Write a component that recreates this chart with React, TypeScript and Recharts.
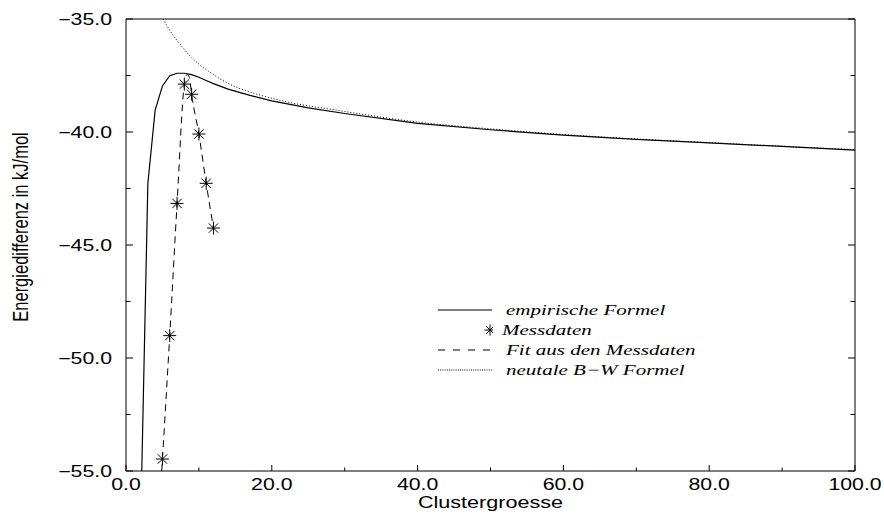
import { ComposedChart, Line, XAxis, YAxis } from "recharts";

const clusterTicks = [0, 10, 20, 30, 40, 50, 60, 70, 80, 90, 100];
const energyTicks = [-55, -52.5, -50, -47.5, -45, -42.5, -40, -37.5, -35];

// empirische Formel (solid), evaluated at cluster sizes
const empirischX = [2, 3, 4, 5, 6, 7, 8, 9, 10, 11, 12, 14, 17, 20, 25, 30, 40, 50, 60, 70, 80, 90, 100];
const empirischY = [-57.5, -42.27, -39.03, -37.96, -37.51, -37.4, -37.4, -37.46, -37.58, -37.72, -37.86, -38.1, -38.38, -38.62, -38.93, -39.18, -39.62, -39.9, -40.14, -40.33, -40.48, -40.64, -40.8];

// Messdaten (asterisks)
const messX = [5, 6, 7, 8, 9, 10, 11, 12];
const messY = [-54.47, -49.01, -43.16, -37.88, -38.33, -40.09, -42.27, -44.25];

// Fit aus den Messdaten (dashed)
const fitX = [4.9, 5, 6, 7, 8, 8.4, 8.7, 9, 10, 11, 12];
const fitY = [-55, -54.47, -49.0, -43.2, -37.9, -37.45, -37.6, -38.33, -40.1, -42.27, -44.25];

// neutale B-W Formel (dotted)
const bwX = [5.1, 6, 7, 8, 9, 10, 11.5, 12.9, 15, 17.5, 22, 29.4, 40, 50, 60, 70, 80, 90, 100];
const bwY = [-35, -35.5, -35.95, -36.35, -36.7, -37.0, -37.35, -37.65, -38.0, -38.28, -38.66, -39.06, -39.56, -39.86, -40.11, -40.31, -40.47, -40.63, -40.78];

const seriesNames = ["empirische Formel", "Messdaten", "Fit aus den Messdaten", "neutale B\u2212W Formel"];

const toPoints = (xs: number[], ys: number[]) => xs.map((x, i) => ({ x, y: ys[i] }));

const empirischData = toPoints(empirischX, empirischY);
const messData = toPoints(messX, messY);
const fitData = toPoints(fitX, fitY);
const bwData = toPoints(bwX, bwY);

const SANS = "'Liberation Sans', Arial, sans-serif";
const SERIF = "'Liberation Serif', 'Times New Roman', serif";

const fmt = (v: number) => (v < 0 ? "\u2212" : "") + Math.abs(v).toFixed(1);

function BottomTick({ x, y, payload }: any) {
  const v = payload.value as number;
  const major = v % 20 === 0;
  return (
    <g>
      <line x1={x} y1={y} x2={x} y2={y - (major ? 6 : 3.5)} stroke="#000" />
      {major && (
        <text
          transform={`translate(${x},${y + 13}) scale(1.33,1)`}
          textAnchor="middle"
          dominantBaseline="central"
          fontSize={16}
          fontFamily={SANS}
          fill="#000"
        >
          {v.toFixed(1)}
        </text>
      )}
    </g>
  );
}

function TopTick({ x, y, payload }: any) {
  const major = payload.value % 20 === 0;
  return <line x1={x} y1={y} x2={x} y2={y + (major ? 6 : 3.5)} stroke="#000" />;
}

function LeftTick({ x, y, payload }: any) {
  const v = payload.value as number;
  const major = v % 5 === 0;
  return (
    <g>
      <line x1={x} y1={y} x2={x + (major ? 7 : 4.5)} y2={y} stroke="#000" />
      {major && (
        <text
          transform={`translate(${x - 14},${y}) scale(1.33,1)`}
          textAnchor="end"
          dominantBaseline="central"
          fontSize={16}
          fontFamily={SANS}
          fill="#000"
        >
          {fmt(v)}
        </text>
      )}
    </g>
  );
}

function RightTick({ x, y, payload }: any) {
  const major = payload.value % 5 === 0;
  return <line x1={x} y1={y} x2={x - (major ? 7 : 4.5)} y2={y} stroke="#000" />;
}

function XLabel({ viewBox }: any) {
  const { x, y, width } = viewBox;
  return (
    <text
      transform={`translate(${x + width / 2},${y + 32}) scale(1.35,1)`}
      textAnchor="middle"
      dominantBaseline="central"
      fontSize={16}
      fontFamily={SANS}
      fill="#000"
    >
      Clustergroesse
    </text>
  );
}

function YLabel({ viewBox }: any) {
  const { x, y, width, height } = viewBox;
  return (
    <text
      transform={`translate(${x + width - 105},${y + height / 2 - 18}) rotate(-90) scale(1,1.3)`}
      textAnchor="middle"
      dominantBaseline="central"
      fontSize={16.5}
      fontFamily={SANS}
      fill="#000"
    >
      Energiedifferenz in kJ/mol
    </text>
  );
}

function Star({ cx, cy, r = 6.5 }: { cx: number; cy: number; r?: number }) {
  const d = r * 0.72;
  return (
    <g stroke="#000" strokeWidth={1}>
      <line x1={cx - r} y1={cy} x2={cx + r} y2={cy} />
      <line x1={cx} y1={cy - r} x2={cx} y2={cy + r} />
      <line x1={cx - d} y1={cy - d} x2={cx + d} y2={cy + d} />
      <line x1={cx - d} y1={cy + d} x2={cx + d} y2={cy - d} />
    </g>
  );
}

function StarDot(props: any) {
  const { cx, cy, index } = props;
  if (cx == null || cy == null) return <g key={index} />;
  return <Star key={index} cx={cx} cy={cy} />;
}

function LegendSymbol({ kind }: { kind: number }) {
  return (
    <svg width={56} height={20} style={{ display: "block" }}>
      {kind === 0 && <line x1={1} y1={10} x2={55} y2={10} stroke="#000" strokeWidth={1.2} />}
      {kind === 1 && <Star cx={53} cy={10} r={5.5} />}
      {kind === 2 && <line x1={1} y1={10} x2={55} y2={10} stroke="#000" strokeWidth={1} strokeDasharray="7 8" />}
      {kind === 3 && <line x1={1} y1={10} x2={55} y2={10} stroke="#000" strokeWidth={1} strokeDasharray="1 1.2" />}
    </svg>
  );
}

export default function App() {
  return (
    <div style={{ position: "absolute", left: 0, top: 0, width: 884, height: 514, background: "#fff" }}>
      <ComposedChart width={884} height={514} margin={{ top: 18, right: 28, bottom: 42, left: 125 }}>
        <XAxis
          dataKey="x"
          type="number"
          domain={[0, 100]}
          ticks={clusterTicks}
          interval={0}
          height={1}
          tickSize={0}
          tickMargin={0}
          tick={<BottomTick />}
          axisLine={{ stroke: "#000" }}
          allowDataOverflow
          label={<XLabel />}
        />
        <XAxis
          xAxisId="top"
          orientation="top"
          type="number"
          domain={[0, 100]}
          ticks={clusterTicks}
          interval={0}
          height={1}
          tickSize={0}
          tickMargin={0}
          tick={<TopTick />}
          axisLine={{ stroke: "#000" }}
          allowDataOverflow
        />
        <YAxis
          type="number"
          domain={[-55, -35]}
          ticks={energyTicks}
          interval={0}
          width={1}
          tickSize={0}
          tickMargin={0}
          tick={<LeftTick />}
          axisLine={{ stroke: "#000" }}
          allowDataOverflow
          label={<YLabel />}
        />
        <YAxis
          yAxisId="right"
          orientation="right"
          type="number"
          domain={[-55, -35]}
          ticks={energyTicks}
          interval={0}
          width={1}
          tickSize={0}
          tickMargin={0}
          tick={<RightTick />}
          axisLine={{ stroke: "#000" }}
          allowDataOverflow
        />
        <Line
          data={empirischData}
          dataKey="y"
          name={seriesNames[0]}
          type="linear"
          stroke="#000"
          strokeWidth={1.2}
          dot={false}
          isAnimationActive={false}
        />
        <Line
          data={bwData}
          dataKey="y"
          name={seriesNames[3]}
          type="monotone"
          stroke="#000"
          strokeWidth={1}
          strokeDasharray="1 2"
          dot={false}
          isAnimationActive={false}
        />
        <Line
          data={fitData}
          dataKey="y"
          name={seriesNames[2]}
          type="monotone"
          stroke="#000"
          strokeWidth={1}
          strokeDasharray="7 5"
          dot={false}
          isAnimationActive={false}
        />
        <Line
          data={messData}
          dataKey="y"
          name={seriesNames[1]}
          stroke="none"
          dot={<StarDot />}
          activeDot={false}
          isAnimationActive={false}
        />
      </ComposedChart>
      <div style={{ position: "absolute", left: 437, top: 300 }}>
        {seriesNames.map((name, i) => (
          <div key={name} style={{ display: "flex", alignItems: "center", height: 20 }}>
            <LegendSymbol kind={i} />
            <span
              style={{
                display: "inline-block",
                marginLeft: i === 1 ? 9 : 13,
                fontFamily: SERIF,
                fontStyle: "italic",
                fontSize: 15,
                lineHeight: "20px",
                whiteSpace: "nowrap",
                transform: "scaleX(1.4)",
                transformOrigin: "left center",
              }}
            >
              {name}
            </span>
          </div>
        ))}
      </div>
    </div>
  );
}
